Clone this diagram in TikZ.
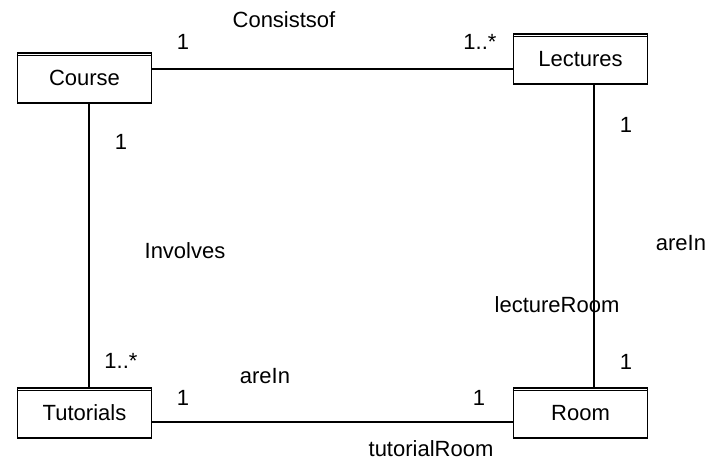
\documentclass[tikz,border=0pt]{standalone}
\usepackage{fontspec}
\setmainfont{Liberation Sans}
\usepackage{tikz}

\tikzset{
  classbox/.style={draw, line width=1.4pt, minimum width=134pt, minimum height=50pt, inner sep=0pt},
  lbl/.style={anchor=base, inner sep=0pt}
}

\begin{document}
\begin{tikzpicture}[x=1pt,y=-1pt,font=\fontsize{22}{25}\selectfont]
\useasboundingbox (0,0) rectangle (712,460);
% classes
\node[classbox] (Course) at (84.5,78) {Course};
\node[classbox] (Lectures) at (580.5,59) {Lectures};
\node[classbox] (Tutorials) at (84.5,413) {Tutorials};
\node[classbox] (Room) at (580.5,413) {Room};
\foreach \c in {Course,Lectures,Tutorials,Room}
  \draw[line width=0.8pt] ([yshift=-3.5pt]\c.north west) -- ([yshift=-3.5pt]\c.north east);
% associations
\draw[line width=1.4pt] ([yshift=9pt]Course.east) -- ([yshift=-10pt]Lectures.west);
\draw[line width=1.4pt] ([xshift=4.5pt]Course.south) -- ([xshift=4.5pt]Tutorials.north);
\draw[line width=1.4pt] ([xshift=13.5pt]Lectures.south) -- ([xshift=13.5pt]Room.north);
\draw[line width=1.4pt] ([yshift=-9pt]Tutorials.east) -- ([yshift=-9pt]Room.west);
% names and multiplicities
\draw node[lbl] at (284,28) {Consistsof};
\draw node[lbl] at (183,50) {1};
\draw node[lbl] at (480,50) {1..*};
\draw node[lbl] at (121,149) {1};
\draw node[lbl] at (185,258) {Involves};
\draw node[lbl] at (121,368) {1..*};
\draw node[lbl] at (626,132) {1};
\draw node[lbl] at (681,250) {areIn};
\draw node[lbl] at (557,312) {lectureRoom};
\draw node[lbl] at (626,369) {1};
\draw node[lbl] at (265,383) {areIn};
\draw node[lbl] at (183,405) {1};
\draw node[lbl] at (479,405) {1};
\draw node[lbl] at (431,456) {tutorialRoom};
\end{tikzpicture}
\end{document}
